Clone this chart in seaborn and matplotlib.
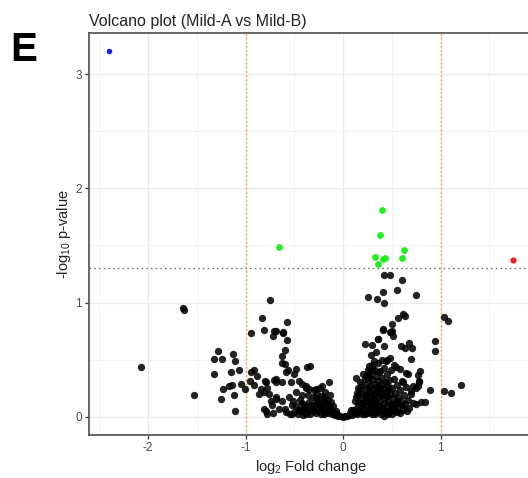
import numpy as np
import pandas as pd
import matplotlib
matplotlib.use("Agg")
import matplotlib.pyplot as plt
import seaborn as sns
from matplotlib.ticker import MultipleLocator

# ---------------- data ----------------
# non-significant points: sparse ones
ns_sparse_x = [-1.64, -1.634, -2.076, -1.528,
               -0.753, -0.83, -0.81, -0.71, -0.716, -0.95,
               -1.28, -1.33, -1.244, -1.134, -1.107,
               -1.33, -1.154, -1.072, -1.233, -1.17, -1.138, -1.048, -1.007, -1.25, -1.117, -1.11,
               -0.946, -0.918, -0.953, -0.88, -0.918, -0.8, -0.706, -0.69,
               -0.846, -0.81, -0.778, -0.76, -0.863, -0.743, -0.727, -0.69, -0.81, -0.778, -0.716,
               -0.69, -0.617, -0.58, -0.596, -0.63, -0.624, -0.596, -0.586, -0.568, -0.486, -0.5,
               -0.367, -0.342, -0.144, -0.219, -0.28,
               -0.794, -0.686, -0.624, -0.538, -0.452, -0.418, -0.383,
               -0.69, -0.624, -0.555, -0.486, -0.418, -0.35,
               -0.794, -0.658, -0.589, -0.521, -0.452, -0.579, -0.614,
               0.404, 0.49, 0.507, 0.226, 0.295, 0.353, 0.414, 0.596, 0.637, 0.671, 0.702,
               0.946, 0.942, 0.288, 0.336, 0.439, 0.483, 0.692, 0.315, 0.524, 0.541, 0.586,
               0.644, 0.668, 0.791, 0.13, 0.778, 0.768, 0.696, 0.747, 0.887, 1.031, 1.107,
               1.206, 0.747, 0.798, 0.836, 0.267, 0.301, 0.37, 0.233,
               0.421, 0.48, 0.6, 0.548, 0.408, 0.257, 0.346, 0.418, 0.75, 0.613, 0.634,
               0.565, 0.497, 0.408, 0.483, 0.5, 1.038, 1.076,
               0.356, 0.445, 0.61, 0.712, 0.774, 0.768]
ns_sparse_y = [0.948, 0.935, 0.433, 0.19,
               1.02, 0.863, 0.76, 0.747, 0.709, 0.73,
               0.572, 0.503, 0.506, 0.547, 0.491,
               0.372, 0.392, 0.412, 0.247, 0.268, 0.279, 0.29, 0.247, 0.151, 0.19, 0.05,
               0.392, 0.41, 0.311, 0.355, 0.279, 0.311, 0.323, 0.30,
               0.244, 0.215, 0.25, 0.2, 0.2, 0.142, 0.099, 0.17, 0.064, 0.026, 0.032,
               0.75, 0.73, 0.674, 0.587, 0.529, 0.468, 0.462, 0.395, 0.407, 0.418, 0.375,
               0.433, 0.447, 0.308, 0.273, 0.244,
               0.308, 0.331, 0.302, 0.302, 0.317, 0.288, 0.273,
               0.157, 0.142, 0.171, 0.215, 0.186, 0.244,
               0.05, 0.07, 0.04, 0.026, 0.055, 0.831, 0.741,
               0.758, 0.744, 0.709, 0.634, 0.63, 0.68, 0.616, 0.616, 0.60, 0.645, 0.599,
               0.663, 0.573, 0.543, 0.569, 0.491, 0.514, 0.503, 0.488, 0.453, 0.438, 0.418,
               0.381, 0.372, 0.398, 0.343, 0.308, 0.273, 0.229, 0.25, 0.236, 0.224, 0.207,
               0.279, 0.113, 0.128, 0.133, 0.447, 0.404, 0.395, 0.36,
               1.241, 1.241, 1.2, 1.107, 1.09, 1.046, 1.034, 0.999, 1.066, 0.90, 0.883,
               0.863, 0.811, 0.764, 0.744, 0.747, 0.874, 0.834,
               0.677, 0.497, 0.302, 0.267, 0.314, 0.366]

# non-significant points: dense cluster around zero (left wing, floor, right wing)
dense_x = [-0.46, -0.43, -0.41, -0.39, -0.37, -0.35, -0.34, -0.32, -0.31, -0.29,
           -0.28, -0.27, -0.26, -0.25, -0.24, -0.23, -0.22, -0.21, -0.20, -0.19,
           -0.18, -0.17, -0.16, -0.155, -0.14, -0.135, -0.12, -0.115, -0.10, -0.09,
           -0.08, -0.07, -0.30, -0.36, -0.42, -0.44, -0.38, -0.24, -0.33, -0.27,
           -0.20, -0.15, -0.23, -0.40, -0.48, -0.50, -0.53, -0.55, -0.60, -0.51,
           -0.30, -0.22, -0.18, -0.26, -0.34, -0.40, -0.13, -0.28, -0.38, -0.12,
           -0.20, -0.45,
           -0.05, -0.03, 0.0, 0.02, 0.04, 0.06, -0.06, 0.07,
           0.08, 0.09, 0.10, 0.11, 0.12, 0.13, 0.14, 0.15, 0.15, 0.16,
           0.17, 0.17, 0.18, 0.19, 0.19, 0.20, 0.21, 0.21, 0.22, 0.23,
           0.23, 0.24, 0.24, 0.25, 0.26, 0.26, 0.27, 0.27, 0.28, 0.28,
           0.29, 0.30, 0.30, 0.31, 0.31, 0.32, 0.32, 0.33, 0.33, 0.34,
           0.34, 0.35, 0.35, 0.36, 0.36, 0.37, 0.37, 0.38, 0.38, 0.39,
           0.39, 0.40, 0.40, 0.41, 0.41, 0.42, 0.42, 0.43, 0.43, 0.44,
           0.44, 0.45, 0.45, 0.46, 0.46, 0.47, 0.47, 0.48, 0.49, 0.49,
           0.50, 0.50, 0.51, 0.52, 0.52, 0.53, 0.54, 0.55, 0.55, 0.56,
           0.57, 0.58, 0.59, 0.60, 0.61, 0.62, 0.63, 0.64, 0.66, 0.68,
           0.70, 0.72, 0.28, 0.22, 0.18, 0.26, 0.30, 0.36, 0.25, 0.20,
           0.17, 0.15, 0.14, 0.40, 0.33, 0.36, 0.42, 0.46, 0.53, 0.58,
           0.13, 0.13,
           0.20, 0.25, 0.30, 0.35, 0.40, 0.45, 0.50, 0.55, 0.32, 0.27,
           0.38, 0.44, 0.22, 0.48, 0.60, 0.65, 0.18, 0.24, 0.29, 0.34,
           0.42, 0.47]
dense_y = [0.02, 0.06, 0.015, 0.09, 0.04, 0.13, 0.02, 0.07, 0.17, 0.11,
           0.03, 0.20, 0.06, 0.14, 0.09, 0.02, 0.18, 0.12, 0.05, 0.22,
           0.08, 0.15, 0.03, 0.11, 0.19, 0.06, 0.13, 0.02, 0.09, 0.04,
           0.015, 0.05, 0.23, 0.19, 0.12, 0.15, 0.25, 0.25, 0.10, 0.13,
           0.16, 0.07, 0.10, 0.05, 0.09, 0.04, 0.10, 0.02, 0.07, 0.14,
           0.05, 0.07, 0.12, 0.10, 0.06, 0.10, 0.09, 0.16, 0.02, 0.04,
           0.02, 0.06,
           0.01, 0.003, 0.0, 0.004, 0.008, 0.015, 0.025, 0.03,
           0.06, 0.015, 0.06, 0.04, 0.14, 0.07, 0.02, 0.19, 0.11, 0.05,
           0.24, 0.15, 0.09, 0.02, 0.28, 0.20, 0.13, 0.06, 0.33, 0.25,
           0.17, 0.10, 0.03, 0.30, 0.21, 0.14, 0.07, 0.38, 0.27, 0.18,
           0.11, 0.02, 0.33, 0.24, 0.15, 0.42, 0.08, 0.29, 0.20, 0.36,
           0.12, 0.04, 0.26, 0.17, 0.31, 0.09, 0.22, 0.40, 0.14, 0.02,
           0.28, 0.19, 0.34, 0.06, 0.24, 0.12, 0.43, 0.30, 0.17, 0.03,
           0.22, 0.37, 0.09, 0.27, 0.14, 0.05, 0.32, 0.20, 0.11, 0.41,
           0.25, 0.02, 0.16, 0.07, 0.33, 0.21, 0.12, 0.28, 0.04, 0.17,
           0.09, 0.23, 0.14, 0.31, 0.06, 0.19, 0.11, 0.26, 0.15, 0.08,
           0.20, 0.12, 0.04, 0.02, 0.12, 0.35, 0.45, 0.47, 0.41, 0.37,
           0.30, 0.25, 0.21, 0.50, 0.02, 0.06, 0.01, 0.02, 0.05, 0.03,
           0.17, 0.03,
           0.10, 0.05, 0.12, 0.10, 0.08, 0.18, 0.10, 0.14, 0.16, 0.24,
           0.25, 0.30, 0.19, 0.06, 0.10, 0.05, 0.05, 0.14, 0.07, 0.22,
           0.20, 0.24]

# significant (p < 0.05), |log2FC| < 1
sig_x = [-0.655, 0.398, 0.374, 0.62, 0.326, 0.432, 0.411, 0.60, 0.356]
sig_y = [1.49, 1.81, 1.587, 1.456, 1.40, 1.39, 1.378, 1.386, 1.337]
# significant and up
up_x = [1.74]
up_y = [1.37]
# significant and down
down_x = [-2.40]
down_y = [3.20]

x_ticks = [-2, -1, 0, 1]
y_ticks = [0, 1, 2, 3]
p_cut = 1.301
fc_cut = [-1, 1]

# ---------------- assemble ----------------
ns = pd.DataFrame({"log2FC": ns_sparse_x + dense_x, "nlogp": ns_sparse_y + dense_y})
sig = pd.DataFrame({"log2FC": sig_x, "nlogp": sig_y})
up = pd.DataFrame({"log2FC": up_x, "nlogp": up_y})
down = pd.DataFrame({"log2FC": down_x, "nlogp": down_y})

# ---------------- style ----------------
sns.set_theme(style="white")
plt.rcParams["font.family"] = ["Liberation Sans", "DejaVu Sans"]
plt.rcParams["mathtext.fontset"] = "custom"
plt.rcParams["mathtext.rm"] = "Liberation Sans"
plt.rcParams["mathtext.default"] = "regular"
plt.rcParams["axes.unicode_minus"] = False

W, H = 528, 478
fig = plt.figure(figsize=(W / 100, H / 100), dpi=100)
ax = fig.add_axes([89 / W, 43 / H, (533 - 89) / W, (435 - 33) / H])

ax.set_xlim(-2.607, 1.947)
ax.set_ylim(-0.16, 3.36)

ax.xaxis.set_minor_locator(MultipleLocator(0.5))
ax.yaxis.set_minor_locator(MultipleLocator(0.5))
ax.set_xticks(x_ticks)
ax.set_yticks(y_ticks)
ax.grid(which="major", color="#EBEBEB", lw=1.0)
ax.grid(which="minor", color="#F2F2F2", lw=0.6)
ax.set_axisbelow(True)

for s in ax.spines.values():
    s.set_color("#5a5a5a")
    s.set_linewidth(1.3)

ax.tick_params(axis="both", which="major", length=3, width=0.9, color="#333333",
               labelsize=8.5, labelcolor="#4D4D4D", pad=2, bottom=True, left=True)
ax.tick_params(which="minor", length=0)

ax.axhline(p_cut, color="#777777", ls=(0, (1.2, 2.2)), lw=1.0, zorder=1)
for v in fc_cut:
    ax.axvline(v, color="#E9AE50", ls=(0, (1.5, 1.5)), lw=1.0, zorder=2)

sns.scatterplot(data=ns, x="log2FC", y="nlogp", color="black", s=28, alpha=0.86,
                linewidth=0, ax=ax, legend=False, zorder=3)
sns.scatterplot(data=sig, x="log2FC", y="nlogp", color="#22EE22", s=24,
                linewidth=0, ax=ax, legend=False, zorder=4)
sns.scatterplot(data=up, x="log2FC", y="nlogp", color="#F02020", s=20,
                linewidth=0, ax=ax, legend=False, zorder=4)
sns.scatterplot(data=down, x="log2FC", y="nlogp", color="#2020EE", s=16,
                linewidth=0, ax=ax, legend=False, zorder=4)

ax.set_xlabel("log$_2$ Fold change", fontsize=10.5, color="#222222", labelpad=3)
ax.set_ylabel("-log$_{10}$ p-value", fontsize=10.5, color="#222222", labelpad=2)
ax.set_title("Volcano plot (Mild-A vs Mild-B)", loc="left", fontsize=11.5,
             color="#222222", pad=5)

fig.text(10 / W, 1 - 61 / H, "E", fontsize=29, fontweight="bold", color="black",
         ha="left", va="baseline")

fig.savefig("out.png", dpi=100)
